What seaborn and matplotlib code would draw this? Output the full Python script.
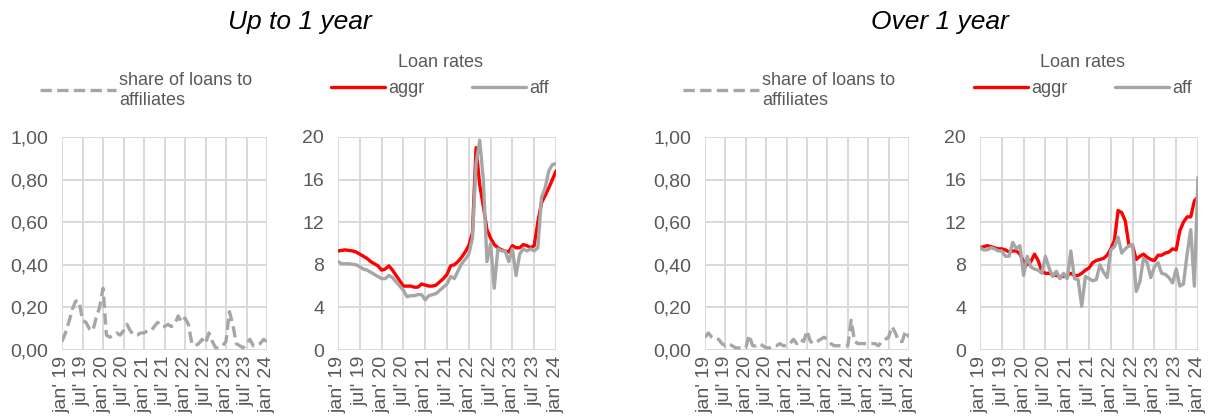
import numpy as np
import pandas as pd
import seaborn as sns
import matplotlib.pyplot as plt
from matplotlib.ticker import FuncFormatter

# monthly data, jan'19 .. jan'24 (61 points)
share_short = [0.04, 0.08, 0.13, 0.19, 0.23, 0.23, 0.14, 0.13, 0.10, 0.09,
               0.15, 0.20, 0.29, 0.07, 0.06, 0.07, 0.08, 0.07, 0.09, 0.12,
               0.09, 0.07, 0.07, 0.08, 0.08, 0.09, 0.09, 0.11, 0.13, 0.11,
               0.11, 0.12, 0.11, 0.12, 0.16, 0.13, 0.15, 0.12, 0.03, 0.02,
               0.03, 0.05, 0.03, 0.08, 0.04, 0.01, 0.01, 0.02, 0.04, 0.18,
               0.12, 0.03, 0.02, 0.01, 0.03, 0.05, 0.02, 0.02, 0.03, 0.05, 0.04]
aggr_short = [9.3, 9.35, 9.4, 9.35, 9.3, 9.2, 9.0, 8.8, 8.6, 8.3,
              8.1, 7.9, 7.5, 7.6, 7.9, 7.5, 7.0, 6.5, 6.0, 6.0,
              6.0, 5.9, 5.9, 6.2, 6.1, 6.0, 6.0, 6.1, 6.4, 6.7,
              7.1, 7.9, 8.0, 8.3, 8.7, 9.2, 9.8, 11.0, 19.0, 15.5,
              13.5, 11.3, 10.5, 9.9, 9.6, 9.4, 9.3, 9.2, 9.8, 9.6,
              9.6, 9.9, 9.8, 9.6, 9.8, 12.0, 13.8, 14.5, 15.2, 16.0, 16.8]
aff_short = [8.3, 8.1, 8.1, 8.1, 8.05, 8.0, 7.8, 7.6, 7.5, 7.3,
             7.1, 6.9, 6.7, 6.7, 7.0, 6.8, 6.4, 6.0, 5.6, 5.0,
             5.1, 5.1, 5.2, 5.2, 4.7, 5.1, 5.2, 5.3, 5.6, 5.9,
             6.2, 6.9, 6.7, 7.4, 8.1, 8.5, 9.0, 10.5, 17.5, 19.7,
             16.0, 8.3, 10.0, 5.8, 9.5, 9.3, 9.3, 8.3, 9.5, 7.0,
             9.0, 9.5, 9.3, 9.5, 9.3, 9.6, 14.3, 15.2, 16.8, 17.4, 17.5]
share_long = [0.06, 0.08, 0.06, 0.05, 0.05, 0.03, 0.02, 0.03, 0.02, 0.01,
              0.01, 0.01, 0.01, 0.07, 0.02, 0.02, 0.03, 0.02, 0.01, 0.01,
              0.02, 0.02, 0.03, 0.02, 0.02, 0.03, 0.05, 0.03, 0.05, 0.04,
              0.09, 0.04, 0.03, 0.04, 0.05, 0.06, 0.05, 0.03, 0.02, 0.02,
              0.02, 0.02, 0.02, 0.14, 0.04, 0.03, 0.03, 0.03, 0.03, 0.03,
              0.03, 0.02, 0.04, 0.05, 0.06, 0.11, 0.08, 0.04, 0.04, 0.09, 0.06]
aggr_long = [9.6, 9.7, 9.8, 9.7, 9.6, 9.5, 9.5, 9.4, 9.2, 9.3,
             9.3, 9.0, 8.3, 8.0, 8.3, 9.0, 8.4, 7.4, 7.2, 7.2,
             7.1, 7.0, 6.9, 6.9, 7.0, 7.2, 7.0, 7.0, 7.2, 7.5,
             7.7, 8.2, 8.4, 8.5, 8.6, 8.9, 9.5, 10.3, 13.1, 12.9,
             12.1, 9.8, 9.8, 8.5, 8.8, 9.0, 8.7, 8.5, 8.4, 8.9,
             8.9, 9.1, 9.2, 9.5, 9.4, 11.2, 12.0, 12.5, 12.5, 14.0, 14.4]
aff_long = [9.6, 9.4, 9.4, 9.6, 9.5, 9.3, 9.3, 8.8, 8.8, 10.1,
            9.5, 9.8, 7.0, 8.8, 7.8, 7.6, 7.5, 7.2, 8.8, 7.7,
            6.9, 7.4, 6.7, 7.2, 6.7, 9.3, 6.7, 6.6, 4.1, 6.9,
            6.7, 6.5, 6.6, 8.0, 7.3, 6.8, 9.4, 9.7, 10.6, 9.1,
            9.5, 9.8, 9.9, 5.5, 6.4, 8.6, 8.2, 6.8, 7.8, 8.2,
            7.2, 7.1, 6.8, 6.3, 7.6, 6.0, 6.2, 9.0, 11.3, 6.0, 16.2]

tick_labels = ["jan' 19", "jul' 19", "jan' 20", "jul' 20", "jan' 21", "jul' 21",
               "jan' 22", "jul' 22", "jan' 23", "jul' 23", "jan' 24"]
titles = ["Up to 1 year", "Over 1 year"]

sns.set_theme(style="white")
plt.rcParams['font.family'] = ['Liberation Sans', 'DejaVu Sans']

RED = "#FF0000"
GREY = "#A6A6A6"
GRID = "#D9D9D9"
TXT = "#595959"
FS = 13
TFS = 14

W, H = 1218, 419
fig = plt.figure(figsize=(W / 100, H / 100), dpi=100)

idx = np.arange(len(share_short))


def px(x0, x1, y_top=137, y_bot=350):
    return [x0 / W, 1 - y_bot / H, (x1 - x0) / W, (y_bot - y_top) / H]


def style_axes(ax, ymax, ystep, fmt):
    ax.set_xlim(0, 60)
    ax.set_ylim(0, ymax)
    ax.set_xticks(np.arange(0, 61, 6))
    ax.set_xticklabels(tick_labels, rotation=90)
    ax.set_yticks(np.arange(0, ymax + ystep / 2, ystep))
    ax.yaxis.set_major_formatter(FuncFormatter(fmt))
    ax.grid(True, color=GRID, lw=1.4)
    for s in ax.spines.values():
        s.set_visible(False)
    ax.tick_params(axis="both", length=0, labelsize=TFS, colors=TXT)
    ax.tick_params(axis="y", pad=10)
    ax.tick_params(axis="x", pad=4)
    ax.set_xlabel("")
    ax.set_ylabel("")


def draw_share(ax, values, leg_x):
    sns.lineplot(x=idx, y=values, ax=ax, color=GREY, lw=2.4,
                 linestyle=(0, (3.4, 1.6)), label="share of loans to\naffiliates")
    style_axes(ax, 1.0, 0.2, lambda v, p: f"{v:.2f}".replace(".", ","))
    ax.legend(loc="upper left", bbox_to_anchor=(leg_x / W, 1 - 72 / H),
              bbox_transform=fig.transFigure, frameon=False, fontsize=FS,
              labelcolor=TXT, handlelength=4.2, handletextpad=0.2,
              borderpad=0, borderaxespad=0, labelspacing=0.2)


def draw_rates(ax, aggr, aff, leg_x):
    sns.lineplot(x=idx, y=aggr, ax=ax, color=RED, lw=2.4, label="aggr")
    sns.lineplot(x=idx, y=aff, ax=ax, color=GREY, lw=2.4, label="aff")
    style_axes(ax, 20, 4, lambda v, p: f"{v:.0f}")
    leg = ax.legend(loc="upper center", bbox_to_anchor=(leg_x / W, 1 - 54 / H),
                    bbox_transform=fig.transFigure, frameon=False, fontsize=FS,
                    labelcolor=TXT, ncol=2, title="Loan rates", title_fontsize=FS,
                    handlelength=3.0, handletextpad=0.2, columnspacing=2.6,
                    borderpad=0, borderaxespad=0)
    leg.get_title().set_color(TXT)


ax1 = fig.add_axes(px(62, 267))
ax2 = fig.add_axes(px(338, 556))
ax3 = fig.add_axes(px(705, 909))
ax4 = fig.add_axes(px(980, 1198))

draw_share(ax1, share_short, 40)
draw_rates(ax2, aggr_short, aff_short, 440)
draw_share(ax3, share_long, 683)
draw_rates(ax4, aggr_long, aff_long, 1083)

fig.text(300 / W, 1 - 22 / H, titles[0], ha="center", va="center",
         fontsize=19, style="italic", color="black")
fig.text(940 / W, 1 - 22 / H, titles[1], ha="center", va="center",
         fontsize=19, style="italic", color="black")

fig.savefig("out.png", dpi=100)
